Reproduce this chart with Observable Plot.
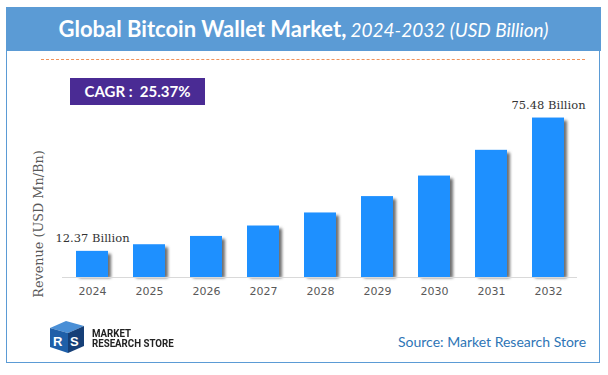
<!DOCTYPE html>
<html><head><meta charset="utf-8">
<script src="https://cdn.jsdelivr.net/npm/d3@7"></script>
<script src="https://cdn.jsdelivr.net/npm/@observablehq/plot@0.6"></script>
<style>
html,body{margin:0;padding:0;background:#fff;}
#wrap{position:relative;width:608px;height:375px;overflow:hidden;}
#frame{position:absolute;left:6px;top:7px;width:594px;height:356px;border:1.5px solid #5b9bd5;box-sizing:border-box;}
#header{position:absolute;left:6px;top:7px;width:595px;height:44px;background:#5b9bd5;color:#fff;text-align:center;line-height:44px;font-family:Lato,"Open Sans",sans-serif;white-space:nowrap;}
#header b{font-size:22px;font-weight:700;}
#header i{font-size:19px;font-weight:400;}
#dash{position:absolute;left:41px;top:59px;width:544px;height:0;border-top:1.3px dashed #f2935a;}
#cagr{position:absolute;left:70px;top:78px;width:135px;height:27px;background:#4a2b94;color:#fff;font-family:Lato,"Open Sans",sans-serif;font-weight:700;font-size:15px;line-height:27px;text-align:center;}
#source{position:absolute;left:398px;top:333px;font-family:Lato,"Open Sans",sans-serif;font-size:14px;color:#2e75b6;}
#logo{position:absolute;left:46px;top:320px;}
#logotext{position:absolute;left:92px;top:329px;font-family:Roboto,sans-serif;font-weight:700;font-size:10px;line-height:9.5px;color:#222;transform:scaleX(0.97);transform-origin:left top;}
#ylabel{position:absolute;left:38px;top:224px;transform:translate(-50%,-50%) rotate(-90deg);font-family:"DejaVu Serif",serif;font-size:12.8px;color:#595959;white-space:nowrap;}
#chart{position:absolute;left:0;top:0;}
</style>
</head><body>
<div id="wrap">
  <div id="chart"></div>
  <div id="frame"></div>
  <div id="header"><b>Global Bitcoin Wallet Market,</b> <i>2024-2032 (USD Billion)</i></div>
  <div id="dash"></div>
  <div id="cagr">CAGR :&nbsp; 25.37%</div>
  <div id="ylabel"></div>
  <svg id="logo" width="44" height="34" viewBox="0 0 44 34">
    <polygon points="4,8 20,1 38,6 22,13" fill="#4a8fd6"/>
    <polygon points="4,8 22,13 22,33 4,27" fill="#1f5fa8"/>
    <polygon points="22,13 38,6 38,26 22,33" fill="#163f77"/>
    <text x="7" y="26" font-family="Liberation Sans,Arial" font-weight="700" font-size="13" fill="#fff">R</text>
    <text x="24" y="26" font-family="Liberation Sans,Arial" font-weight="700" font-size="13" fill="#fff">S</text>
  </svg>
  <div id="logotext">MARKET<br>RESEARCH STORE</div>
  <div id="source">Source: Market Research Store</div>
</div>
<script>
const years = ["2024","2025","2026","2027","2028","2029","2030","2031","2032"];
const revenue = [12.37, 15.51, 19.44, 24.37, 30.55, 38.30, 48.02, 60.20, 75.48];
const labelled = ["2024","2032"];
const yLabel = "Revenue (USD Mn/Bn)";

document.getElementById("ylabel").textContent = yLabel;
const data = years.map((y, i) => ({year: y, value: revenue[i]}));

const plot = Plot.plot({
  width: 608,
  height: 375,
  marginLeft: 62,
  marginRight: 31,
  marginTop: 108,
  marginBottom: 98,
  style: {background: "transparent", overflow: "visible"},
  x: {domain: years, paddingInner: 0.44, paddingOuter: 0.23, label: null},
  y: {domain: [0, 80], axis: null},
  marks: [
    Plot.barY(data, {x: "year", y: "value", fill: "#6e6e6e", dx: 3, dy: 1, insetTop: 2}),
    Plot.barY(data, {x: "year", y: "value", fill: "#1e90ff"}),
    Plot.ruleY([0], {stroke: "#d9d9d9", strokeWidth: 1.2}),
    Plot.axisX({tickSize: 0, tickPadding: 10, fontSize: 11, fontFamily: "DejaVu Sans", fill: "#595959", label: null}),
    Plot.text(data.filter(d => labelled.includes(d.year)), {
      x: "year", y: "value", text: d => d.value.toFixed(2) + " Billion",
      dy: -13, fontSize: 11.5, fontFamily: "DejaVu Serif", fill: "#333"
    })
  ]
});

const svg = d3.select(plot);
const defs = svg.insert("defs", ":first-child");
defs.append("filter").attr("id", "shadowBlur").attr("x", "-50%").attr("y", "-10%").attr("width", "200%").attr("height", "120%")
  .append("feGaussianBlur").attr("stdDeviation", 1.6);
svg.select('g[aria-label="bar"]').attr("filter", "url(#shadowBlur)");
document.getElementById("chart").appendChild(plot);
</script>
</body></html>
